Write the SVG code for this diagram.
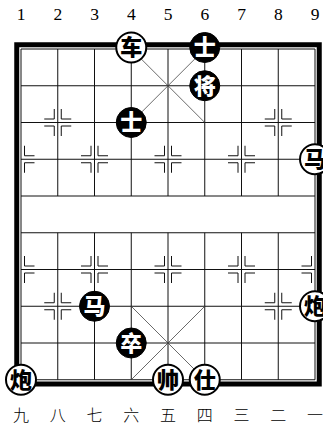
<svg xmlns="http://www.w3.org/2000/svg" width="323" height="428" viewBox="0 0 323 428">
<style>
.grid{fill:none;stroke:#111;stroke-width:1}
.pal{fill:none;stroke:#444;stroke-width:0.8}
.mark{fill:none;stroke:#111;stroke-width:1}
.frame{fill:none;stroke:#000;stroke-width:5}
.num{font-family:"Liberation Serif",serif;font-size:17.5px;text-anchor:middle;fill:#000}
.cn{font-family:"Noto Sans CJK SC",sans-serif;font-size:16px;font-weight:300;text-anchor:middle;fill:#000}
.rp circle{fill:#fff;stroke:#000;stroke-width:2}
.rp text{fill:#000}
.bp circle{fill:#000;stroke:#000;stroke-width:1}
.bp text{fill:#fff}
.pc text{font-family:"Noto Sans CJK SC",sans-serif;font-size:22px;font-weight:900;text-anchor:middle}
</style>
<rect width="323" height="428" fill="#fff"/>
<g id="labels-top">
<text class="num" x="21" y="20">1</text>
<text class="num" x="57.75" y="20">2</text>
<text class="num" x="94.5" y="20">3</text>
<text class="num" x="131.25" y="20">4</text>
<text class="num" x="168" y="20">5</text>
<text class="num" x="204.75" y="20">6</text>
<text class="num" x="241.5" y="20">7</text>
<text class="num" x="278.25" y="20">8</text>
<text class="num" x="315" y="20">9</text>
</g>
<g id="board">
<rect class="frame" x="16.75" y="44.75" width="302.5" height="339.25"/>
<path class="grid" d="M21,49H315M21,85.75H315M21,122.5H315M21,159.25H315M21,196H315M21,232.75H315M21,269.5H315M21,306.25H315M21,343H315M21,379.75H315
M21,49V379.75M315,49V379.75
M57.75,49V196M57.75,232.75V379.75
M94.5,49V196M94.5,232.75V379.75
M131.25,49V196M131.25,232.75V379.75
M168,49V196M168,232.75V379.75
M204.75,49V196M204.75,232.75V379.75
M241.5,49V196M241.5,232.75V379.75
M278.25,49V196M278.25,232.75V379.75"/>
<path class="pal" d="M131.25,49L204.75,122.5M204.75,49L131.25,122.5M131.25,306.25L204.75,379.75M204.75,306.25L131.25,379.75"/>
<path class="mark" d="M44.25,119H54.25V109M71.25,119H61.25V109M44.25,126H54.25V136M71.25,126H61.25V136
M264.75,119H274.75V109M291.75,119H281.75V109M264.75,126H274.75V136M291.75,126H281.75V136
M44.25,302.75H54.25V292.75M71.25,302.75H61.25V292.75M44.25,309.75H54.25V319.75M71.25,309.75H61.25V319.75
M264.75,302.75H274.75V292.75M291.75,302.75H281.75V292.75M264.75,309.75H274.75V319.75M291.75,309.75H281.75V319.75
M81,155.75H91V145.75M108,155.75H98V145.75M81,162.75H91V172.75M108,162.75H98V172.75
M154.5,155.75H164.5V145.75M181.5,155.75H171.5V145.75M154.5,162.75H164.5V172.75M181.5,162.75H171.5V172.75
M228,155.75H238V145.75M255,155.75H245V145.75M228,162.75H238V172.75M255,162.75H245V172.75
M34.5,155.75H24.5V145.75M34.5,162.75H24.5V172.75
M301.5,155.75H311.5V145.75M301.5,162.75H311.5V172.75
M81,266H91V256M108,266H98V256M81,273H91V283M108,273H98V283
M154.5,266H164.5V256M181.5,266H171.5V256M154.5,273H164.5V283M181.5,273H171.5V283
M228,266H238V256M255,266H245V256M228,273H238V283M255,273H245V283
M34.5,266H24.5V256M34.5,273H24.5V283
M301.5,266H311.5V256M301.5,273H311.5V283"/>
</g>
<g id="connectors"></g>
<g id="p-che" class="pc rp"><circle cx="131.25" cy="47.5" r="15"/><text x="131.25" y="55">车</text></g>
<g id="p-shi-b1" class="pc bp"><circle cx="204.75" cy="47.5" r="15"/><text x="204.75" y="55">士</text></g>
<g id="p-jiang" class="pc bp"><circle cx="204.75" cy="85.75" r="15"/><text x="204.75" y="93.5">将</text></g>
<g id="p-shi-b2" class="pc bp"><circle cx="131.25" cy="122.5" r="15"/><text x="131.25" y="130.25">士</text></g>
<g id="p-ma-r" class="pc rp"><circle cx="315" cy="159.25" r="15"/><text x="315" y="167">马</text></g>
<g id="p-ma-b" class="pc bp"><circle cx="94.5" cy="306.25" r="15"/><text x="94.5" y="314">马</text></g>
<g id="p-pao-r1" class="pc rp"><circle cx="315" cy="306.25" r="15"/><text x="315" y="314">炮</text></g>
<g id="p-zu" class="pc bp"><circle cx="131.25" cy="343" r="15"/><text x="131.25" y="350.75">卒</text></g>
<g id="p-pao-r2" class="pc rp"><circle cx="21" cy="379.75" r="15"/><text x="21" y="387.5">炮</text></g>
<g id="p-shuai" class="pc rp"><circle cx="168" cy="379.75" r="15"/><text x="168" y="387.5">帅</text></g>
<g id="p-shi-r" class="pc rp"><circle cx="204.75" cy="379.75" r="15"/><text x="204.75" y="387.5">仕</text></g>
<g id="labels-bottom">
<text class="cn" x="21" y="421">九</text>
<text class="cn" x="57.75" y="421">八</text>
<text class="cn" x="94.5" y="421">七</text>
<text class="cn" x="131.25" y="421">六</text>
<text class="cn" x="168" y="421">五</text>
<text class="cn" x="204.75" y="421">四</text>
<text class="cn" x="241.5" y="421">三</text>
<text class="cn" x="278.25" y="421">二</text>
<text class="cn" x="315" y="421">一</text>
</g>
</svg>
